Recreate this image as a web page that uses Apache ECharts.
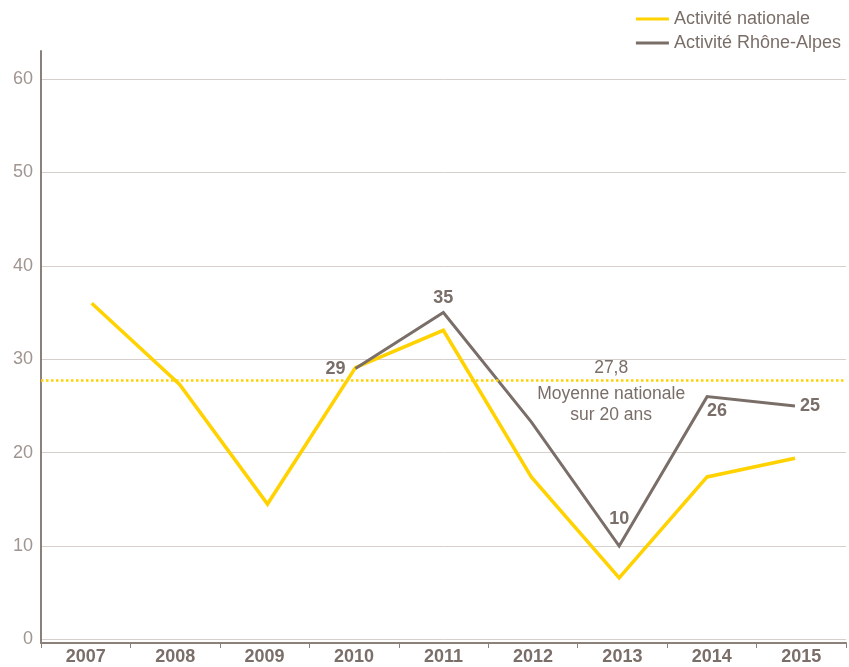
<!DOCTYPE html>
<html>
<head>
<meta charset="utf-8">
<script src="https://cdn.jsdelivr.net/npm/echarts@6/dist/echarts.min.js"></script>
<style>
  html, body { margin: 0; padding: 0; background: #fff; }
  #chart { width: 849px; height: 667px; }
</style>
</head>
<body>
<div id="chart"></div>
<script>
// données
var years = ['2007', '2008', '2009', '2010', '2011', '2012', '2013', '2014', '2015'];
var nationale = [36, 27.3, 14.5, 29.1, 33.1, 17.4, 6.6, 17.4, 19.4];
var rhoneAlpes = [null, null, null, 29, 35, 23.3, 10, 26, 25];
var rhoneLabels = [null, null, null, '29', '35', null, '10', '26', '25'];
var moyenne = 27.8;
var moyenneLabel = '27,8';
var moyenneTexte = 'Moyenne nationale\nsur 20 ans';

var JAUNE = '#FFD200';
var GRIS = '#7a6e69';
var AXE = '#8c807b';
var FONT = '"Liberation Sans", Arial, sans-serif';

// position des étiquettes de la série Rhône-Alpes
var labelStyle = {
    3: { position: 'left', distance: 10 },
    4: { position: 'top', distance: 6 },
    6: { position: 'top', distance: 18 },
    7: { position: 'bottom', distance: 5, offset: [10, 0] },
    8: { position: 'right', distance: 5 }
};

var rhoneData = rhoneAlpes.map(function (v, i) {
    if (v === null) return v;
    var item = { value: v, label: { show: false } };
    if (rhoneLabels[i]) {
        item.label = Object.assign({ show: true, formatter: rhoneLabels[i] }, labelStyle[i]);
    }
    return item;
});

var chart = echarts.init(document.getElementById('chart'));
var option = {
    backgroundColor: '#fff',
    animation: false,
    textStyle: { fontFamily: FONT },
    legend: {
        orient: 'vertical',
        right: 3,
        top: 5,
        itemWidth: 33,
        itemHeight: 3,
        itemGap: 6,
        icon: 'rect',
        textStyle: { color: GRIS, fontSize: 18, fontFamily: FONT },
        data: ['Activité nationale', 'Activité Rhône-Alpes']
    },
    grid: [
        // graduations et quadrillage
        { left: 41, right: 3, top: 79, bottom: 27.5 },
        // courbes
        { left: 91.7, right: 54, top: 79, bottom: 27.5 },
        // axes
        { left: 41, right: 3, top: 51, bottom: 24 }
    ],
    xAxis: [
        { type: 'category', gridIndex: 0, data: years, show: false },
        { type: 'category', gridIndex: 1, data: years, boundaryGap: false, show: false },
        {
            type: 'category',
            gridIndex: 2,
            data: years,
            boundaryGap: true,
            axisLine: { lineStyle: { color: AXE, width: 2 } },
            axisTick: { show: true, length: 5, lineStyle: { color: AXE, width: 1 } },
            axisLabel: { color: GRIS, fontSize: 18, fontWeight: 'bold', margin: 5, fontFamily: FONT }
        }
    ],
    yAxis: [
        {
            type: 'value',
            gridIndex: 0,
            min: 0,
            max: 60,
            interval: 10,
            axisLine: { show: false },
            axisTick: { show: false },
            axisLabel: { color: '#a0958f', fontSize: 18, margin: 8, fontFamily: FONT },
            splitLine: { lineStyle: { color: '#d6cfcc', width: 1 } }
        },
        {
            type: 'value',
            gridIndex: 1,
            min: 0,
            max: 60,
            interval: 10,
            show: false,
            splitLine: { show: false }
        },
        {
            type: 'value',
            gridIndex: 2,
            min: 0,
            max: 1,
            axisLine: { show: true, lineStyle: { color: AXE, width: 2 } },
            axisTick: { show: false },
            axisLabel: { show: false },
            splitLine: { show: false }
        }
    ],
    series: [
        {
            name: 'moyenne',
            type: 'line',
            xAxisIndex: 0,
            yAxisIndex: 0,
            data: [],
            markLine: {
                silent: true,
                symbol: 'none',
                label: { show: false },
                lineStyle: { color: JAUNE, type: 'dotted', width: 2.5 },
                data: [{ yAxis: moyenne }]
            }
        },
        {
            name: 'Activité nationale',
            type: 'line',
            xAxisIndex: 1,
            yAxisIndex: 1,
            data: nationale,
            symbol: 'none',
            color: JAUNE,
            lineStyle: { color: JAUNE, width: 3.5, join: 'miter' },
            markPoint: {
                symbol: 'circle',
                symbolSize: 0,
                data: [
                    {
                        coord: ['2013', moyenne],
                        label: {
                            show: true, position: 'top', distance: 3, offset: [-8, 0],
                            formatter: moyenneLabel, color: GRIS, fontSize: 17.5, fontFamily: FONT
                        }
                    },
                    {
                        coord: ['2013', moyenne],
                        label: {
                            show: true, position: 'bottom', distance: 4, offset: [-8, 0],
                            formatter: moyenneTexte, color: GRIS, fontSize: 17.5, lineHeight: 21,
                            align: 'center', fontFamily: FONT
                        }
                    }
                ]
            }
        },
        {
            name: 'Activité Rhône-Alpes',
            type: 'line',
            xAxisIndex: 1,
            yAxisIndex: 1,
            data: rhoneData,
            symbol: 'circle',
            symbolSize: 0,
            showSymbol: true,
            color: GRIS,
            itemStyle: { color: GRIS },
            lineStyle: { color: GRIS, width: 3, join: 'miter' },
            label: {
                show: false,
                color: GRIS,
                fontSize: 18,
                fontWeight: 'bold',
                fontFamily: FONT
            }
        }
    ]
};
chart.setOption(option);
</script>
</body>
</html>
